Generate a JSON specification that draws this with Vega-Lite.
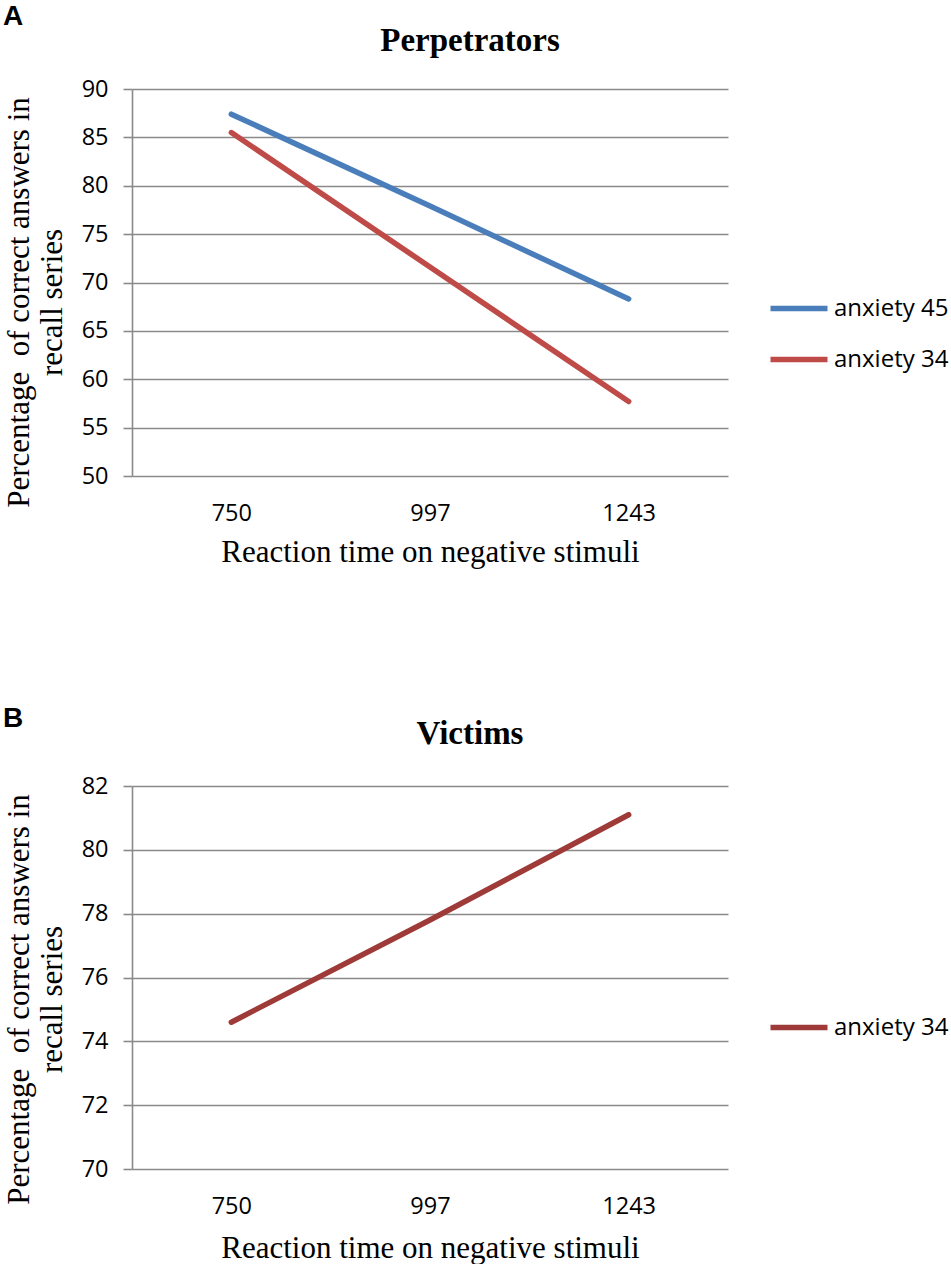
{
  "$schema": "https://vega.github.io/schema/vega-lite/v6.json",
  "background": "white",
  "padding": {"left": 2, "top": 3, "right": 225, "bottom": 0},
  "datasets": {
    "perpetrators": [
      {"rt": 750, "pct": 87.4, "series": "anxiety 45"},
      {"rt": 997, "pct": 77.9, "series": "anxiety 45"},
      {"rt": 1243, "pct": 68.3, "series": "anxiety 45"},
      {"rt": 750, "pct": 85.5, "series": "anxiety 34"},
      {"rt": 997, "pct": 71.6, "series": "anxiety 34"},
      {"rt": 1243, "pct": 57.7, "series": "anxiety 34"}
    ],
    "victims": [
      {"rt": 750, "pct": 74.6, "series": "anxiety 34"},
      {"rt": 997, "pct": 77.8, "series": "anxiety 34"},
      {"rt": 1243, "pct": 81.1, "series": "anxiety 34"}
    ]
  },
  "config": {
    "view": {"stroke": null},
    "axis": {
      "labelFont": "Open Sans",
      "labelFontSize": 23.5,
      "labelColor": "black",
      "titleFont": "Liberation Serif",
      "titleFontSize": 31,
      "titleFontWeight": "normal",
      "titleColor": "black",
      "gridColor": "#8a8a8a",
      "gridWidth": 1.6,
      "domainColor": "#8a8a8a",
      "domainWidth": 1.6,
      "tickColor": "#8a8a8a",
      "tickWidth": 1.6
    },
    "axisY": {
      "grid": true,
      "tickSize": 9,
      "labelPadding": 15,
      "titleAngle": -90,
      "titleAlign": "center",
      "titleBaseline": "bottom",
      "titleX": -97,
      "titleY": 213,
      "titleLineHeight": 33
    },
    "axisX": {
      "grid": false,
      "domain": false,
      "ticks": false,
      "labelAngle": 0,
      "labelPadding": 25
    },
    "legend": {
      "orient": "none",
      "legendX": 635.5,
      "title": null,
      "symbolType": "stroke",
      "symbolSize": 3249,
      "symbolStrokeWidth": 5.5,
      "labelFont": "Open Sans",
      "labelFontSize": 24,
      "labelColor": "black",
      "labelOffset": 3.5,
      "rowPadding": 7,
      "padding": 0
    },
    "title": {
      "font": "Liberation Serif",
      "fontSize": 33,
      "fontWeight": "bold",
      "color": "black",
      "anchor": "middle",
      "frame": "group",
      "dx": 40
    }
  },
  "resolve": {"scale": {"color": "independent"}, "legend": {"color": "independent"}},
  "spacing": 136,
  "vconcat": [
    {
      "title": {"text": "A", "anchor": "start", "frame": "group", "font": "Liberation Sans", "fontSize": 28, "fontWeight": "bold", "offset": -6, "dx": -129},
      "vconcat": [
        {
          "title": {"text": "Perpetrators", "offset": 19},
          "width": 596,
          "height": 387,
          "data": {"name": "perpetrators"},
          "mark": {"type": "line", "strokeWidth": 5.5, "strokeCap": "round"},
          "encoding": {
            "x": {
              "field": "rt",
              "type": "ordinal",
              "scale": {"type": "point", "padding": 0.5},
              "axis": {"title": "Reaction time on negative stimuli", "titlePadding": 13}
            },
            "y": {
              "field": "pct",
              "type": "quantitative",
              "scale": {"domain": [50, 90]},
              "axis": {
                "values": [50, 55, 60, 65, 70, 75, 80, 85, 90],
                "title": ["Percentage\u00a0 of correct answers in", "recall series"]
              }
            },
            "color": {
              "field": "series",
              "type": "nominal",
              "scale": {"domain": ["anxiety 45", "anxiety 34"], "range": ["#4A7EBB", "#BE4B48"]},
              "legend": {"legendY": 188}
            }
          }
        }
      ]
    },
    {
      "title": {"text": "B", "anchor": "start", "frame": "group", "font": "Liberation Sans", "fontSize": 28, "fontWeight": "bold", "offset": -14.5, "dx": -129},
      "vconcat": [
        {
          "title": {"text": "Victims", "offset": 23},
          "width": 596,
          "height": 383,
          "data": {"name": "victims"},
          "mark": {"type": "line", "strokeWidth": 5.5, "strokeCap": "round"},
          "encoding": {
            "x": {
              "field": "rt",
              "type": "ordinal",
              "scale": {"type": "point", "padding": 0.5},
              "axis": {"title": "Reaction time on negative stimuli", "titlePadding": 16}
            },
            "y": {
              "field": "pct",
              "type": "quantitative",
              "scale": {"domain": [70, 82]},
              "axis": {
                "values": [70, 72, 74, 76, 78, 80, 82],
                "title": ["Percentage\u00a0 of correct answers in", "recall series"]
              }
            },
            "color": {
              "field": "series",
              "type": "nominal",
              "scale": {"domain": ["anxiety 34"], "range": ["#9E3A38"]},
              "legend": {"legendY": 210}
            }
          }
        }
      ]
    }
  ]
}
